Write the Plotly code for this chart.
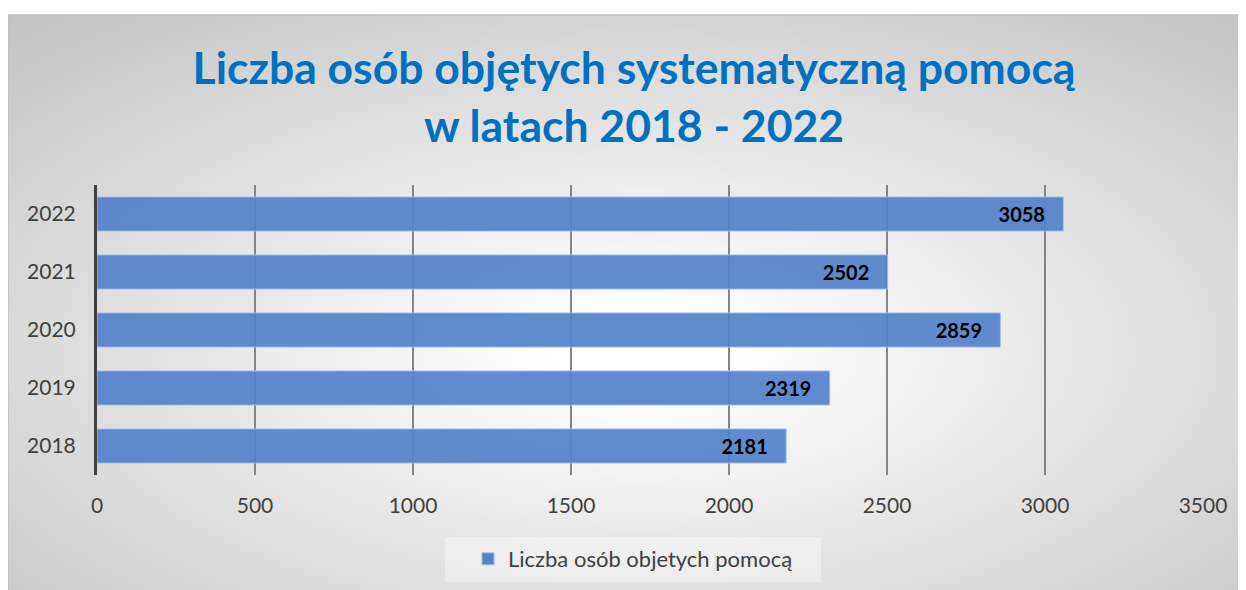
import base64, struct, zlib
import numpy as np
import plotly.graph_objects as go

# ---- data ----
years = ["2018", "2019", "2020", "2021", "2022"]
values = [2181, 2319, 2859, 2502, 3058]
series_name = "Liczba osób objetych pomocą"
title_lines = ["Liczba osób objętych systematyczną pomocą", "w latach 2018 - 2022"]
x_ticks = [0, 500, 1000, 1500, 2000, 2500, 3000, 3500]

W, H = 1246, 590
OFF = 8  # page body margin: screen px = figure px + 8
L = 97 - OFF
T = 185 - OFF
PW = 1203 - 97
PH = 475 - 185
R = W - L - PW
B = H - T - PH

def px2x(px):  # screen px -> paper x
    return (px - OFF - L) / PW

def py2y(py):  # screen px -> paper y
    return 1 - (py - OFF - T) / PH

# ---- background radial gradient (style) ----
def make_bg():
    w, h = 311, 148
    xs = np.linspace(8, W + 8, w)
    ys = np.linspace(15, H + 8, h)
    X, Y = np.meshgrid(xs, ys)
    cx, cy, rx, ry = 640, 350, 630, 300
    d = np.sqrt(((X - cx) / rx) ** 2 + ((Y - cy) / ry) ** 2)
    v = 255 - 44 * np.clip(d - 0.15, 0, None)
    arr = np.clip(v, 0, 255).astype(np.uint8)
    raw = b"".join(b"\x00" + row.tobytes() for row in arr)
    def chunk(t, data):
        c = struct.pack(">I", len(data)) + t + data
        return c + struct.pack(">I", zlib.crc32(t + data) & 0xffffffff)
    png = b"\x89PNG\r\n\x1a\n" + chunk(b"IHDR", struct.pack(">IIBBBBB", w, h, 8, 0, 0, 0, 0)) \
        + chunk(b"IDAT", zlib.compress(raw, 9)) + chunk(b"IEND", b"")
    return "data:image/png;base64," + base64.b64encode(png).decode()

FONT = "Lato"

fig = go.Figure()
fig.add_trace(go.Bar(
    y=years, x=values, orientation="h", name=series_name,
    marker=dict(color="#5582CB", opacity=0.92, line=dict(color="#A9C0E8", width=1)),
    text=values,
    texttemplate="<b>%{x}</b>\u00a0\u00a0\u00a0",
    textposition="inside", insidetextanchor="end", textangle=0,
    constraintext="none",
    textfont=dict(family=FONT, size=20, color="black"),
    hoverinfo="skip",
))

fig.update_layout(
    width=W, height=H,
    margin=dict(l=L, r=R, t=T, b=B),
    paper_bgcolor="white",
    plot_bgcolor="rgba(0,0,0,0)",
    font=dict(family=FONT, color="#404040"),
    title=dict(
        text="<b>" + "<br>".join(title_lines) + "</b>",
        x=(634 - OFF) / W, xanchor="center", xref="container",
        y=1 - 76 / H, yanchor="top", yref="container",
        font=dict(family=FONT, size=44.5, color="#0070C0"),
    ),
    bargap=0.41,
    showlegend=True,
    legend=dict(
        orientation="h", x=px2x(633), xanchor="center", y=py2y(559), yanchor="middle",
        font=dict(family=FONT, size=22, color="#404040"),
        bgcolor="rgba(0,0,0,0)",
    ),
    xaxis=dict(
        range=[0, 3500], tickvals=x_ticks, ticktext=[str(t) for t in x_ticks],
        showgrid=True, gridcolor="#858585", gridwidth=1.5,
        zeroline=False, showline=False, ticks="",
        ticklabelstandoff=16,
        tickfont=dict(family=FONT, size=21, color="#404040"),
    ),
    yaxis=dict(
        categoryorder="array", categoryarray=years,
        showgrid=False, zeroline=False,
        showline=True, linecolor="#404040", linewidth=3,
        ticks="", ticklabelstandoff=14,
        tickfont=dict(family=FONT, size=21, color="#404040"),
    ),
    images=[dict(
        source=make_bg(), xref="paper", yref="paper",
        x=px2x(8), y=py2y(15), sizex=px2x(W + 8) - px2x(8), sizey=py2y(15) - py2y(H + 8),
        xanchor="left", yanchor="top", sizing="stretch", layer="below",
    )],
    shapes=[
        dict(type="line", xref="paper", yref="paper", x0=px2x(8), x1=px2x(W + 8), y0=py2y(15), y1=py2y(15),
             line=dict(color="#BFBFBF", width=1.5), layer="below"),
        dict(type="line", xref="paper", yref="paper", x0=px2x(8), x1=px2x(8), y0=py2y(15), y1=py2y(H + 8),
             line=dict(color="#BFBFBF", width=1.5), layer="below"),
        dict(type="rect", xref="paper", yref="paper", x0=px2x(445), x1=px2x(821), y0=py2y(537), y1=py2y(582),
             fillcolor="rgba(255,255,255,0.35)", line=dict(width=0), layer="below"),
    ],
)

fig.write_html("out.html")
